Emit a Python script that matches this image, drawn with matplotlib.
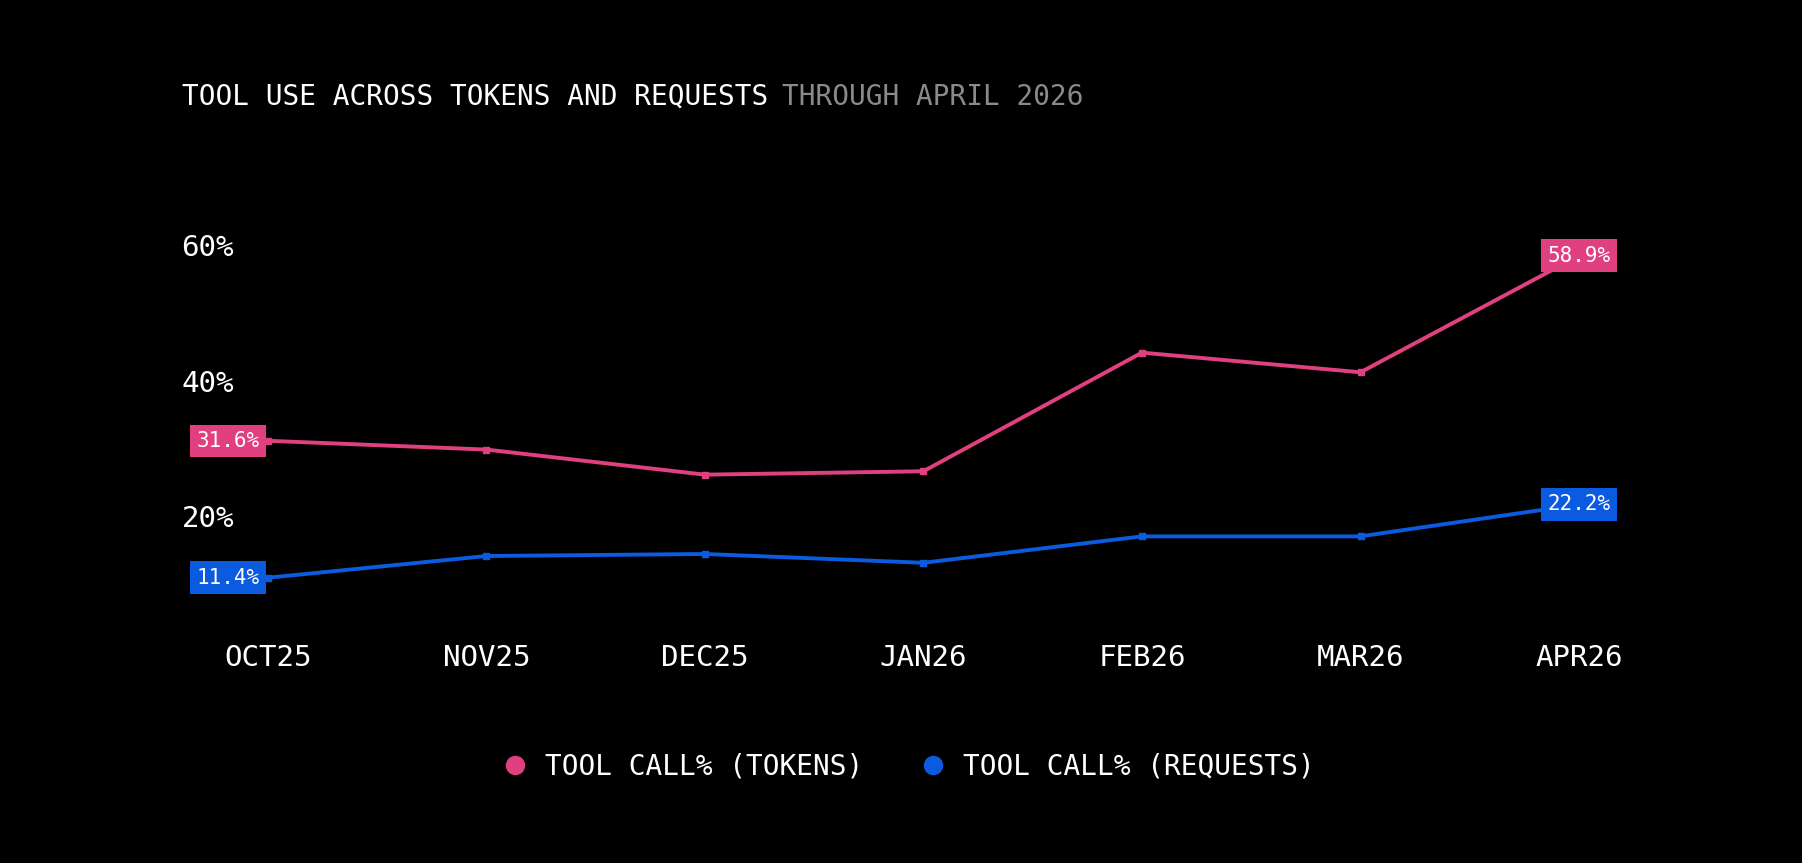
import matplotlib
matplotlib.use("Agg")
import matplotlib.pyplot as plt
from matplotlib.lines import Line2D

months = ["OCT25", "NOV25", "DEC25", "JAN26", "FEB26", "MAR26", "APR26"]
tokens_pct = [31.6, 30.3, 26.6, 27.1, 44.6, 41.7, 58.9]
requests_pct = [11.4, 14.6, 14.9, 13.6, 17.5, 17.5, 22.2]
y_ticks = [20, 40, 60]

PINK = "#E0407F"
BLUE = "#0A5BE0"
FONT = ["DejaVu Sans Mono"]
plt.rcParams["font.family"] = FONT

W, H = 1568, 751
fig = plt.figure(figsize=(18.02, 8.63), dpi=100, facecolor="black")
left, right = 233 / W, 1374 / W
bottom, top = 1 - 570 / H, 1 - 216 / H
ax = fig.add_axes([left, bottom, right - left, top - bottom])
ax.set_facecolor("black")
ax.set_xlim(0, len(months) - 1)
ax.set_ylim(0, 60)
ax.axis("off")

x = list(range(len(months)))
ax.plot(x, tokens_pct, color=PINK, lw=2.8, marker="s", ms=5, clip_on=False)
ax.plot(x, requests_pct, color=BLUE, lw=2.8, marker="s", ms=5, clip_on=False)

# y labels
for v in y_ticks:
    fy = bottom + (top - bottom) * v / 60
    fig.text(158 / W, fy, f"{v}%", color="white", fontsize=21, ha="left", va="center")
# x labels
for i, m in enumerate(months):
    fx = left + (right - left) * i / (len(months) - 1)
    fig.text(fx, 1 - 573 / H, m, color="white", fontsize=21, ha="center", va="center")

# end labels
for series, col in ((tokens_pct, PINK), (requests_pct, BLUE)):
    ax.annotate(f"{series[0]:.1f}%", (0, series[0]), ha="right", va="center", color="white",
                fontsize=15, annotation_clip=False, xytext=(-6, 0), textcoords="offset points",
                bbox=dict(boxstyle="square,pad=0.3", fc=col, ec="none"))
    ax.annotate(f"{series[-1]:.1f}%", (6, series[-1]), ha="center", va="center", color="white",
                fontsize=15, annotation_clip=False,
                bbox=dict(boxstyle="square,pad=0.3", fc=col, ec="none"))

# title
t1 = fig.text(158 / W, 1 - 84 / H, "TOOL USE ACROSS TOKENS AND REQUESTS", color="white",
              fontsize=20, ha="left", va="center")
fig.canvas.draw()
bb = t1.get_window_extent()
fig.text(bb.x1 / fig.bbox.width + 0.008, 1 - 84 / H, "THROUGH APRIL 2026", color="#8a8a8a",
         fontsize=20, ha="left", va="center")

handles = [Line2D([], [], ls="none", marker="o", ms=13, color=PINK, label="TOOL CALL% (TOKENS)"),
           Line2D([], [], ls="none", marker="o", ms=13, color=BLUE, label="TOOL CALL% (REQUESTS)")]
fig.legend(handles=handles, loc="center", bbox_to_anchor=(0.5, 1 - 667 / H), ncol=2, frameon=False,
           fontsize=20, labelcolor="white", handletextpad=0.1, columnspacing=1.5)

fig.savefig("out.png", dpi=100, facecolor="black")
